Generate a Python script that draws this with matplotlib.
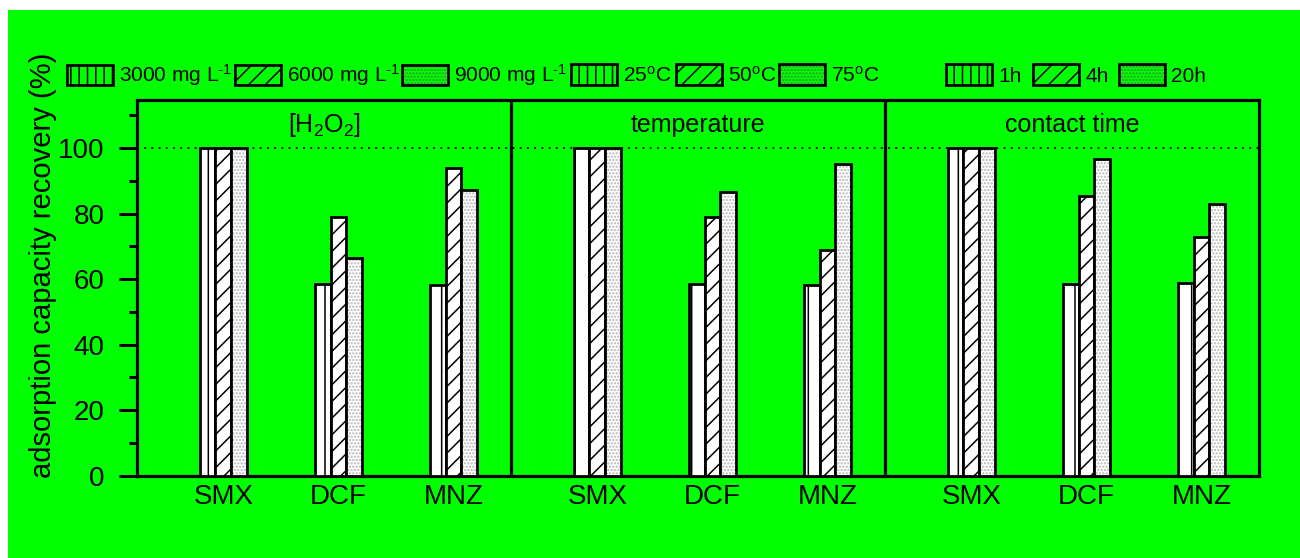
import matplotlib
matplotlib.use("Agg")
import matplotlib.pyplot as plt
from matplotlib.patches import Patch, Rectangle
from matplotlib.ticker import MultipleLocator
import numpy as np

plt.rcParams['font.family'] = ['Liberation Sans', 'DejaVu Sans']
plt.rcParams['mathtext.fontset'] = 'custom'
plt.rcParams['mathtext.rm'] = 'Liberation Sans'
plt.rcParams['mathtext.it'] = 'Liberation Sans:italic'
plt.rcParams['mathtext.bf'] = 'Liberation Sans:bold'
plt.rcParams['hatch.linewidth'] = 1.1

# ---- data ----
panels = ['[H$_2$O$_2$]', 'temperature', 'contact time']
compounds = ['SMX', 'DCF', 'MNZ']
h2o2_low = [100, 58.5, 58.2]
h2o2_mid = [100, 79.1, 93.9]
h2o2_high = [100, 66.4, 87.2]
temp_low = [100, 58.5, 58.2]
temp_mid = [100, 79.1, 68.9]
temp_high = [100, 86.6, 95.2]
time_low = [100, 58.5, 58.8]
time_mid = [100, 85.4, 73.0]
time_high = [100, 96.6, 82.9]
legend_h2o2 = ['3000 mg L$^{\u20101}$', '6000 mg L$^{\u20101}$', '9000 mg L$^{\u20101}$']
legend_temp = ['25$^\\mathrm{o}$C', '50$^\\mathrm{o}$C', '75$^\\mathrm{o}$C']
legend_time = ['1h', '4h', '20h']
ylabel = 'adsorption capacity recovery (%)'

panel_data = [
    [h2o2_low, h2o2_mid, h2o2_high],
    [temp_low, temp_mid, temp_high],
    [time_low, time_mid, time_high],
]

GREEN = '#00ff00'
W, H = 1300, 558
fig = plt.figure(figsize=(13, 5.58), dpi=100, facecolor='white')
fig.patches.append(Rectangle((8 / W, 0), 1 - 8 / W, 1 - 10 / H, transform=fig.transFigure,
                             facecolor=GREEN, edgecolor='none', zorder=-10))

ax = fig.add_axes([137 / W, (H - 475.7) / H, (1259 - 137) / W, (475.7 - 100) / H])
ax.set_facecolor(GREEN)

pw = 3.25
bw = 0.137
offsets = [-bw, 0, bw]
xticks, xlabels = [], []
for p, series in enumerate(panel_data):
    x = np.arange(1, 4) + p * pw
    xticks.extend(x)
    xlabels.extend(compounds)
    for k, vals in enumerate(series):
        xs = x + offsets[k]
        if k == 0:
            ax.bar(xs, vals, bw, facecolor='white', edgecolor='black', hatch='|', lw=2.0, zorder=3)
        elif k == 1:
            ax.bar(xs, vals, bw, facecolor='white', edgecolor='black', hatch='//', lw=2.0, zorder=3)
        else:
            ax.bar(xs, vals, bw, facecolor='white', edgecolor='#b5b5b5', hatch='.....', lw=0, zorder=3)
            ax.bar(xs, vals, bw, fill=False, edgecolor='black', lw=2.0, zorder=4)
    if p > 0:
        ax.axvline(0.25 + p * pw, color='black', lw=2.3, zorder=5)
    ax.text(0.25 + pw * (p + 0.5), 104.9, panels[p], ha='center', va='baseline', fontsize=18)

ax.axhline(100, color='black', ls=(0, (1, 3)), lw=1.3, zorder=2)

ax.set_xlim(0.25, 0.25 + 3 * pw)
ax.set_ylim(0, 114.7)
ax.set_xticks(xticks)
ax.set_xticklabels(xlabels, fontsize=20)
ax.tick_params(axis='x', length=0, pad=6)
ax.yaxis.set_major_locator(MultipleLocator(20))
ax.yaxis.set_minor_locator(MultipleLocator(10))
ax.set_yticks([0, 20, 40, 60, 80, 100])
ax.tick_params(axis='y', which='major', length=13, width=2.2, labelsize=20, direction='out', pad=10.5)
ax.tick_params(axis='y', which='minor', length=6, width=2.2, direction='out')
for s in ax.spines.values():
    s.set_linewidth(2.3)
ax.set_ylabel(ylabel, fontsize=21)
ax.yaxis.set_label_coords((57 - 137) / 1122, 0.561)


def make_handles():
    h1 = Patch(facecolor='none', edgecolor='black', hatch='||', lw=2.0)
    h2 = Patch(facecolor='none', edgecolor='black', hatch='//', lw=2.0)
    h3 = (Patch(facecolor='none', edgecolor='#2f9a2f', hatch='.....', lw=0),
          Patch(facecolor='none', edgecolor='black', lw=2.0))
    return [h1, h2, h3]


legend_x = [67, 235, 402, 571, 676, 779, 946, 1033, 1119]
all_labels = legend_h2o2 + legend_temp + legend_time
all_handles = make_handles() + make_handles() + make_handles()
for h, lab, xpix in zip(all_handles, all_labels, legend_x):
    fig.legend([h], [lab], loc='center left',
               bbox_to_anchor=(xpix / W, 1 - 75 / H), frameon=False,
               fontsize=15, handlelength=2.2, handleheight=1.12, handletextpad=0.3,
               borderpad=0, borderaxespad=0)

fig.savefig('out.png', dpi=100, facecolor=fig.get_facecolor())
